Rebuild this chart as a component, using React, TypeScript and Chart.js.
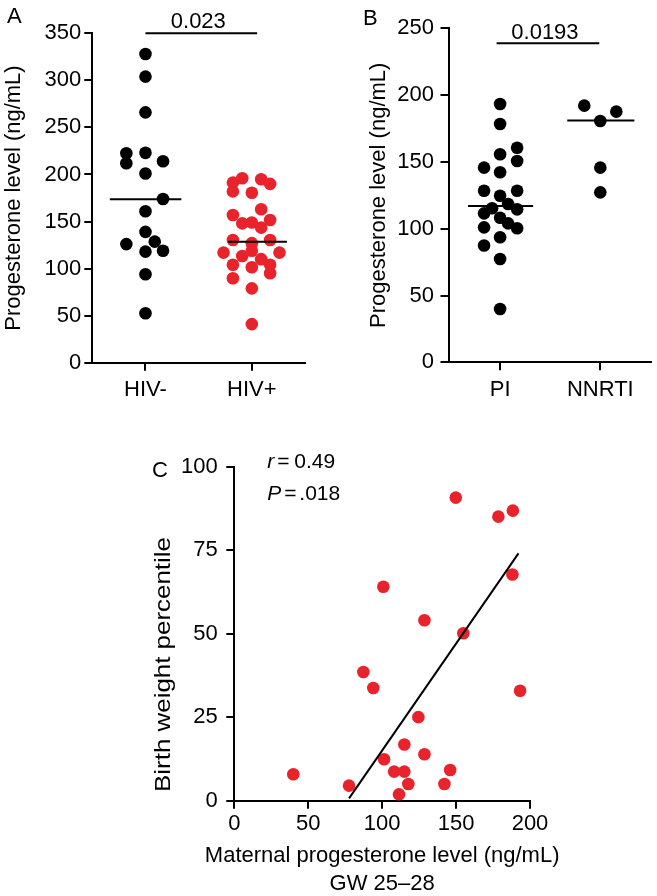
import React, { useEffect, useRef } from "react";
import { Chart, registerables } from "chart.js";

Chart.register(...registerables);

const FONT_FAMILY = '"Liberation Sans", Arial, Helvetica, sans-serif';
const RED = "#e8232b";
const BLACK = "#000000";

// ---------- Panel A: HIV- vs HIV+ ----------
const groupsA = ["HIV-", "HIV+"];
const hivNegValues = [328, 304, 266, 222.5, 223, 214, 212, 201, 174, 161, 139, 126, 128.6, 118, 119, 94, 52.5];
const hivNegJitter = [0, 0, 0, -0.18, 0, 0.165, -0.18, 0, 0.165, 0, 0, -0.18, 0.087, 0, 0.165, 0, 0];
const hivPosValues = [191.3, 196, 195, 190, 182, 180.5, 157, 163, 148, 149, 143.5, 151.6, 130.4, 127, 130.4, 117, 113.4, 119, 110, 117, 104, 101.4, 104, 95, 89.7, 79, 41];
const hivPosJitter = [-0.178, -0.09, 0.088, 0.172, -0.178, 0, -0.178, 0.088, -0.09, 0, 0.088, 0.172, -0.178, 0, 0.172, -0.266, -0.09, 0, 0.088, 0.26, -0.178, 0, 0.172, 0.172, -0.178, 0, 0];
const mediansA = [173.6, 128.6];
const medianSpanA = [[-0.335, 0.337], [-0.225, 0.33]];
const yRangeA = [0, 350, 50];
const pBarA = [1.0, 2.05, 350];
const pLabelA = "0.023";

// ---------- Panel B: PI vs NNRTI ----------
const groupsB = ["PI", "NNRTI"];
const piValues = [193.3, 178.4, 160.6, 155.7, 150.7, 145.7, 142.2, 128.4, 128.4, 124.7, 115.3, 118.5, 114.5, 111.5, 108.2, 104, 101, 100.3, 93.6, 87.4, 77.3, 39.9];
const piJitter = [0, 0, 0.17, 0, 0.17, -0.16, 0, -0.16, 0.17, 0, -0.08, 0.08, 0.17, -0.16, 0, 0.08, -0.16, 0.17, 0, -0.16, 0, 0];
const nnrtiValues = [192.1, 187.6, 180.6, 145.7, 127.2];
const nnrtiJitter = [-0.16, 0.16, 0, 0, 0];
const mediansB = [117, 180.9];
const medianSpanB = [[-0.32, 0.33], [-0.33, 0.34]];
const yRangeB = [0, 250, 50];
const pBarB = [0.965, 1.99, 238.8];
const pLabelB = "0.0193";

const yTitleAB = "Progesterone level (ng/mL)";

// ---------- Panel C: correlation ----------
const progesteroneC = [149.8, 100.8, 128.6, 87.3, 94.0, 124.5, 115.0, 128.6, 101.3, 108.1, 115.0, 117.7, 111.4, 39.9, 77.6, 142.1, 146.0, 178.6, 188.4, 188.1, 154.9, 193.3];
const percentileC = [90.7, 64.0, 54.0, 38.5, 33.7, 25.0, 16.8, 13.9, 12.4, 8.7, 8.7, 5.0, 1.9, 7.9, 4.5, 5.0, 9.2, 85.0, 86.8, 67.7, 50.1, 32.9];
const fitLineX = [77.6, 192.2];
const fitLineY = [0.7, 74.0];
const xRangeC = [0, 200, 50];
const yRangeC = [0, 100, 25];
const xTitleC = ["Maternal progesterone level (ng/mL)", "GW 25\u201328"];
const yTitleC = "Birth weight percentile";
const statR = "0.49";
const statP = ".018";

const font = (size = 22, italic = false) => `${italic ? "italic " : ""}${size}px ${FONT_FAMILY}`;

const gridStyle = {
  display: true,
  drawOnChartArea: false,
  drawTicks: true,
  tickLength: 8,
  color: BLACK,
  lineWidth: 2,
};
const borderStyle = { display: true, color: BLACK, width: 2 };
const tickFont = { color: BLACK, font: { family: FONT_FAMILY, size: 22 } };

function vText(ctx: CanvasRenderingContext2D, s: string, x: number, y: number, targetLen?: number) {
  ctx.save();
  ctx.translate(x, y);
  ctx.rotate(-Math.PI / 2);
  if (targetLen) {
    const w = ctx.measureText(s).width;
    ctx.scale(targetLen / w, 1);
  }
  ctx.textAlign = "center";
  ctx.textBaseline = "alphabetic";
  ctx.fillText(s, 0, 0);
  ctx.restore();
}

function pBar(chart: any, ctx: CanvasRenderingContext2D, bar: number[], label: string, lift: number) {
  const xs = chart.scales.x;
  const ys = chart.scales.y;
  const x1 = xs.getPixelForValue(bar[0]);
  const x2 = xs.getPixelForValue(bar[1]);
  const y = ys.getPixelForValue(bar[2]);
  ctx.lineWidth = 2;
  ctx.beginPath();
  ctx.moveTo(x1, y);
  ctx.lineTo(x2, y);
  ctx.stroke();
  ctx.textAlign = "center";
  ctx.textBaseline = "alphabetic";
  ctx.fillText(label, (x1 + x2) / 2 - 3, y - lift);
}

function annotPlugin(draw: (chart: any, ctx: CanvasRenderingContext2D) => void) {
  return {
    id: "annot",
    afterDraw(chart: any) {
      const ctx = chart.ctx as CanvasRenderingContext2D;
      ctx.save();
      ctx.fillStyle = BLACK;
      ctx.strokeStyle = BLACK;
      ctx.font = font();
      draw(chart, ctx);
      ctx.restore();
    },
  };
}

function dotConfig(o: any): any {
  const datasets: any[] = [];
  o.medians.forEach((m: number, i: number) =>
    datasets.push({
      data: [
        { x: i + 1 + o.spans[i][0], y: m },
        { x: i + 1 + o.spans[i][1], y: m },
      ],
      showLine: true,
      borderColor: BLACK,
      borderWidth: 2,
      pointRadius: 0,
    })
  );
  o.series.forEach((s: any) =>
    datasets.push({
      data: s.values.map((v: number, k: number) => ({ x: s.group + s.jitter[k], y: v })),
      showLine: false,
      backgroundColor: s.color,
      borderColor: s.color,
      pointRadius: 6.3,
      pointBorderWidth: 0,
    })
  );
  return {
    type: "scatter",
    data: { datasets },
    options: {
      responsive: false,
      animation: false,
      devicePixelRatio: 1,
      events: [],
      layout: { padding: o.padding },
      plugins: { legend: { display: false }, tooltip: { enabled: false } },
      scales: {
        x: {
          type: "linear",
          min: o.xMin,
          max: o.xMax,
          afterBuildTicks: (ax: any) => {
            ax.ticks = o.groups.map((_: string, i: number) => ({ value: i + 1 }));
          },
          afterFit: (ax: any) => {
            ax.height = o.xHeight;
          },
          ticks: {
            ...tickFont,
            padding: o.xTickPad,
            maxRotation: 0,
            autoSkip: false,
            callback: (v: number) => o.groups[Math.round(v) - 1] ?? "",
          },
          grid: gridStyle,
          border: borderStyle,
        },
        y: {
          type: "linear",
          min: o.yRange[0],
          max: o.yRange[1],
          afterFit: (ax: any) => {
            ax.width = o.yWidth;
          },
          ticks: { ...tickFont, padding: o.yTickPad, stepSize: o.yRange[2] },
          grid: gridStyle,
          border: borderStyle,
        },
      },
    },
    plugins: [annotPlugin(o.draw)],
  };
}

function configA() {
  return dotConfig({
    groups: groupsA,
    series: [
      { group: 1, values: hivNegValues, jitter: hivNegJitter, color: BLACK },
      { group: 2, values: hivPosValues, jitter: hivPosJitter, color: RED },
    ],
    medians: mediansA,
    spans: medianSpanA,
    xMin: 0.5,
    xMax: 2.5,
    yRange: yRangeA,
    padding: { left: 0, right: 20, top: 33.3, bottom: 420 - 362.7 - 45 },
    xHeight: 45,
    yWidth: 92.3,
    xTickPad: 6,
    yTickPad: 3,
    draw: (chart: any, ctx: CanvasRenderingContext2D) => {
      ctx.textAlign = "left";
      ctx.fillText("A", 7, 23);
      pBar(chart, ctx, pBarA, pLabelA, 5);
      const ca = chart.chartArea;
      vText(ctx, yTitleAB, 20, (ca.top + ca.bottom) / 2);
    },
  });
}

function configB() {
  return dotConfig({
    groups: groupsB,
    series: [
      { group: 1, values: piValues, jitter: piJitter, color: BLACK },
      { group: 2, values: nnrtiValues, jitter: nnrtiJitter, color: BLACK },
    ],
    medians: mediansB,
    spans: medianSpanB,
    xMin: 0.485,
    xMax: 2.503,
    yRange: yRangeB,
    padding: { left: 0, right: 0, top: 28.3, bottom: 420 - 362.3 - 45 },
    xHeight: 45,
    yWidth: 118.5,
    xTickPad: 6,
    yTickPad: 6.5,
    draw: (chart: any, ctx: CanvasRenderingContext2D) => {
      ctx.textAlign = "left";
      ctx.fillText("B", 33, 25);
      pBar(chart, ctx, pBarB, pLabelB, 4);
      const ca = chart.chartArea;
      vText(ctx, yTitleAB, 55, (ca.top + ca.bottom) / 2);
    },
  });
}

function configC(): any {
  return {
    type: "scatter",
    data: {
      datasets: [
        {
          data: fitLineX.map((x, i) => ({ x, y: fitLineY[i] })),
          showLine: true,
          borderColor: BLACK,
          borderWidth: 2,
          pointRadius: 0,
        },
        {
          data: progesteroneC.map((x, i) => ({ x, y: percentileC[i] })),
          showLine: false,
          backgroundColor: RED,
          borderColor: RED,
          pointRadius: 6.3,
          pointBorderWidth: 0,
        },
      ],
    },
    options: {
      responsive: false,
      animation: false,
      devicePixelRatio: 1,
      events: [],
      layout: { padding: { left: 0, right: 30, top: 26.5, bottom: 456 - 360.7 - 40 } },
      plugins: { legend: { display: false }, tooltip: { enabled: false } },
      scales: {
        x: {
          type: "linear",
          min: xRangeC[0],
          max: xRangeC[1],
          afterFit: (ax: any) => {
            ax.height = 40;
          },
          ticks: { ...tickFont, padding: 2, stepSize: xRangeC[2], maxRotation: 0 },
          grid: gridStyle,
          border: borderStyle,
        },
        y: {
          type: "linear",
          min: yRangeC[0],
          max: yRangeC[1],
          afterFit: (ax: any) => {
            ax.width = 94.3;
          },
          ticks: { ...tickFont, padding: 8.5, stepSize: yRangeC[2] },
          grid: gridStyle,
          border: borderStyle,
        },
      },
    },
    plugins: [
      annotPlugin((chart: any, ctx: CanvasRenderingContext2D) => {
        const ca = chart.chartArea;
        ctx.textAlign = "left";
        ctx.textBaseline = "alphabetic";
        ctx.fillText("C", 12, 36.7);
        // statistics
        const x0 = ca.left + 33;
        ctx.font = font(21, true);
        ctx.fillText("r", x0, 28.3);
        ctx.fillText("P", x0, 60);
        ctx.font = font(21);
        ctx.fillText("=", x0 + 10, 28.3);
        ctx.fillText(statR, x0 + 27, 28.3);
        ctx.fillText("=", x0 + 17, 60);
        ctx.fillText(statP, x0 + 32, 60);
        // axis titles
        ctx.font = font(22);
        ctx.textAlign = "center";
        const cx = (ca.left + ca.right) / 2;
        ctx.fillText(xTitleC[0], cx, 421.7);
        ctx.fillText(xTitleC[1], cx, 450);
        vText(ctx, yTitleC, 29.5, 224.5, 255);
      }),
    ],
  };
}

export default function App() {
  const refA = useRef<HTMLCanvasElement>(null);
  const refB = useRef<HTMLCanvasElement>(null);
  const refC = useRef<HTMLCanvasElement>(null);

  useEffect(() => {
    const charts = [
      new Chart(refA.current as HTMLCanvasElement, configA()),
      new Chart(refB.current as HTMLCanvasElement, configB()),
      new Chart(refC.current as HTMLCanvasElement, configC()),
    ];
    return () => charts.forEach((c) => c.destroy());
  }, []);

  return (
    <div style={{ position: "absolute", left: 0, top: 0, width: 657, height: 896, background: "#fff" }}>
      <canvas ref={refA} width={325} height={420} style={{ position: "absolute", left: 0, top: 0, width: 325, height: 420 }} />
      <canvas ref={refB} width={327} height={420} style={{ position: "absolute", left: 330, top: 0, width: 327, height: 420 }} />
      <canvas ref={refC} width={420} height={456} style={{ position: "absolute", left: 140, top: 440, width: 420, height: 456 }} />
    </div>
  );
}
